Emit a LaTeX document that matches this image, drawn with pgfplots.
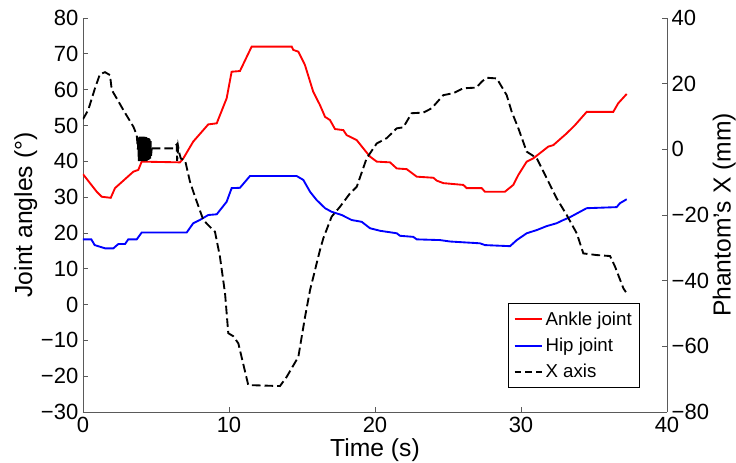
\documentclass[border=0pt]{standalone}
\usepackage{fontspec}
\setmainfont{Liberation Sans}
\usepackage{pgfplots}
\pgfplotsset{compat=1.18}

\definecolor{axgray}{RGB}{90,90,90}

\pgfplotsset{
  common/.style={
    scale only axis, width=438pt, height=295.5pt,
    at={(0,0)}, anchor=south west,
    xmin=0, xmax=40,
    tick align=inside, major tick length=4pt,
    axis line style={axgray, line width=0.6pt},
    tick style={axgray, line width=0.6pt},
    ticklabel style={font=\fontsize{16.5}{18}\selectfont},
    label style={font=\fontsize{18.5}{20}\selectfont},
  }
}

\begin{document}
\begin{tikzpicture}
\begin{axis}[common,
    ymin=-30, ymax=80,
    axis x line*=bottom, axis y line*=left,
    xtick={0,10,20,30,40}, xticklabels={0,10,20,30,40},
    ytick={-30,-20,...,80},
    yticklabels={−30,−20,−10,0,10,20,30,40,50,60,70,80},
    xlabel={Time (s)}, ylabel={Joint angles (°)},
    xlabel style={yshift=2pt},
    ylabel style={yshift=-4pt},
    legend cell align=left,
    legend style={at={(0.954,0.061)}, anchor=south east,
      font=\fontsize{14}{16}\selectfont, draw=black, line width=0.6pt,
      row sep=4pt, inner sep=4pt},
    legend image code/.code={\draw[#1] (0cm,0cm) -- (0.72cm,0cm);},
  ]
\addplot[red, line width=1.4pt] coordinates {
(0,36.4) (0.94,31.5) (1.28,30.1) (1.9,29.8) (2.19,32.5) (3.45,37.1) (3.79,37.6)
(4.02,39.9) (6.64,39.7) (6.87,40.8) (7.55,45.5) (8.58,50.3) (9.16,50.6) (9.84,57.6)
(10.18,65.0) (10.75,65.2) (11.55,72.0) (14.3,72.0) (14.4,71.1) (14.75,70.6) (15.2,66.9)
(15.77,59.4) (16.23,55.7) (16.58,52.4) (16.92,51.5) (17.26,49.0) (17.83,48.7) (18.06,47.3)
(18.75,45.9) (19.2,43.6) (19.66,41.3) (20.12,39.9) (21.03,39.7) (21.49,38.0) (22.17,37.8)
(22.86,35.7) (24.0,35.4) (24.23,34.6) (24.68,33.9) (26.05,33.4) (26.28,32.5) (27.31,32.5)
(27.53,31.5) (28.9,31.5) (29.47,33.4) (29.82,36.2) (30.39,39.9) (30.84,40.8) (31.87,44.1)
(32.21,44.5) (33.13,47.8) (33.7,50.1) (34.5,53.8) (36.32,53.8) (36.66,56.2) (37.24,58.8)
};
\addlegendentry{Ankle joint}
\addplot[blue, line width=1.4pt] coordinates {
(0,18.2) (0.57,18.2) (0.8,16.6) (1.51,15.7) (2.08,15.7) (2.42,16.9) (2.88,16.9) (3.1,18.2)
(3.68,18.2) (4.02,20.1) (7.1,20.1) (7.55,22.7) (8.0,23.6) (8.58,25.0) (9.16,25.2) (9.84,28.7)
(10.18,32.5) (10.75,32.6) (11.44,35.9) (14.63,35.9) (15.09,34.8) (15.55,31.5) (16.0,29.2)
(16.58,26.9) (17.03,25.9) (17.72,25.0) (18.4,23.6) (19.09,23.1) (19.66,21.3) (20.34,20.6)
(21.49,19.9) (21.71,19.2) (22.62,18.9) (22.86,18.2) (24.45,18.0) (25.14,17.6) (27.19,17.1)
(27.53,16.6) (29.25,16.3) (29.71,18.0) (30.39,19.9) (31.08,20.8) (31.76,21.9) (32.44,22.7)
(32.9,23.6) (33.36,24.4) (34.04,25.9) (34.5,26.9) (36.55,27.2) (36.78,28.3) (37.24,29.4)
};
\addlegendentry{Hip joint}
\addlegendimage{black, line width=1.4pt, dash pattern=on 5pt off 3pt}
\addlegendentry{X axis}
\end{axis}

\begin{axis}[common,
    ymin=-80, ymax=40,
    axis x line=none, axis y line*=right,
    ytick={-80,-60,...,40},
    yticklabels={−80,−60,−40,−20,0,20,40},
    ylabel={Phantom's X (mm)},
    ylabel style={yshift=4pt},
  ]
% X axis trace, before the jitter
\addplot[black, line width=1.4pt, dash pattern=on 6.5pt off 3pt] coordinates {
(0,9.2) (0.36,12.0) (0.82,18.6) (1.16,22.9) (1.51,23.5) (1.85,22.6) (1.97,18.1) (2.31,15.5)
(2.76,12.0) (3.45,6.9) (3.68,4.4) (3.76,0.0)
};
% jitter around 4 s
\addplot[black, line width=1.4pt] coordinates {
(3.76,0.0) (3.79,3.5) (3.82,-3.6) (3.85,3.8) (3.88,-3.4) (3.91,3.9) (3.94,-3.6) (3.97,3.7)
(4.00,-3.5) (4.03,3.9) (4.06,-3.6) (4.09,3.8) (4.12,-3.5) (4.15,3.9) (4.18,-3.6) (4.21,3.6)
(4.24,-3.4) (4.27,3.8) (4.30,-3.5) (4.33,3.7) (4.36,-3.6) (4.39,3.5) (4.42,-3.3) (4.45,3.4)
(4.48,-3.2) (4.51,3.3) (4.54,-3.0) (4.57,3.0) (4.60,-2.8) (4.63,2.5) (4.66,-2.0) (4.71,0.3)
};
% X axis trace, after the jitter
\addplot[black, line width=1.4pt, dash pattern=on 6.5pt off 3pt] coordinates {
(4.71,0.3) (6.18,0.3) (6.42,1.5) (6.45,-3.5) (6.52,0.8) (6.6,-1.2) (6.7,-2.8) (6.99,-3.3)
(7.33,-9.9) (7.67,-14.4) (8.24,-21.5) (8.58,-23.1) (9.04,-25.1) (9.38,-32.7) (9.73,-43.9)
(9.95,-56.0) (10.29,-56.9) (10.64,-59.1) (11.32,-71.8) (13.49,-72.1) (13.95,-69.3)
(14.75,-63.2) (15.21,-51.0) (15.55,-42.9) (16.23,-30.7) (16.46,-27.1) (17.03,-20.5)
(17.6,-17.5) (18.29,-13.4) (18.75,-11.4) (19.43,-2.7) (20.12,1.8) (20.8,3.4) (21.49,6.4)
(21.94,6.7) (22.51,11.0) (23.32,11.2) (23.88,12.5) (24.68,16.5) (25.36,17.1) (26.05,18.6)
(26.94,18.8) (27.31,20.6) (27.65,21.8) (28.34,21.6) (29.02,16.5) (29.36,11.5) (29.82,6.4)
(30.39,-0.7) (31.08,-2.7) (31.76,-8.8) (32.44,-14.9) (33.13,-20.0) (33.82,-25.6)
(34.27,-31.7) (35.18,-32.2) (36.1,-32.5) (36.44,-35.7) (37.01,-42.3) (37.19,-43.5)
};
\end{axis}
\pgfresetboundingbox
\path[use as bounding box] (-62.25pt,-37.5pt) rectangle (489.75pt,309pt);
\end{tikzpicture}
\end{document}
